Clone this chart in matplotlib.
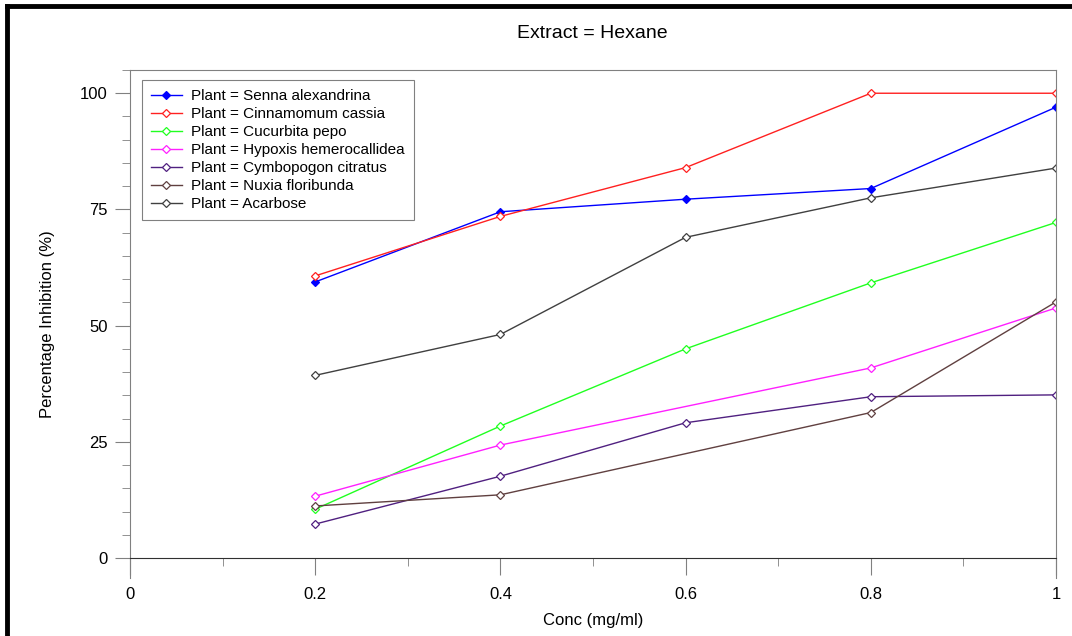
import matplotlib.pyplot as plt
from matplotlib.lines import Line2D
from matplotlib.ticker import MultipleLocator

plt.rcParams['font.family'] = ['Liberation Sans', 'DejaVu Sans']

# concentrations (mg/ml)
conc = [0.2, 0.4, 0.6, 0.8, 1.0]
conc_gap = [0.2, 0.4, 0.8, 1.0]  # series with no 0.6 reading

senna = [59.4, 74.5, 77.2, 79.5, 97.0]
cinnamomum = [60.7, 73.5, 84.0, 100.0, 100.0]
cucurbita = [10.5, 28.4, 45.0, 59.2, 72.2]
hypoxis = [13.3, 24.3, 40.9, 53.8]
cymbopogon = [7.3, 17.6, 29.1, 34.7, 35.1]
nuxia = [11.2, 13.6, 31.3, 55.1]
acarbose = [39.3, 48.1, 69.0, 77.5, 83.9]

series = [
    ('Plant = Senna alexandrina', conc, senna, '#0000ff', True),
    ('Plant = Cinnamomum cassia', conc, cinnamomum, '#ff2020', False),
    ('Plant = Cucurbita pepo', conc, cucurbita, '#20ff20', False),
    ('Plant = Hypoxis hemerocallidea', conc_gap, hypoxis, '#ff20ff', False),
    ('Plant = Cymbopogon citratus', conc, cymbopogon, '#502080', False),
    ('Plant = Nuxia floribunda', conc_gap, nuxia, '#604040', False),
    ('Plant = Acarbose', conc, acarbose, '#404040', False),
]

fig = plt.figure(figsize=(10.72, 6.36), dpi=100)
ax = fig.add_axes([130 / 1072, 1 - 578 / 636, 926 / 1072, 508 / 636])

for name, xs, ys, col, filled in series:
    ax.plot(xs, ys, color=col, lw=1.0, marker='D', markersize=3.6,
            markerfacecolor=col if filled else 'white', markeredgecolor=col,
            markeredgewidth=0.9, label=name)

ax.set_xlim(0, 1)
ax.set_ylim(-4.3, 105)
ax.spines['bottom'].set_position(('data', 0))
for s in ['left', 'right', 'top']:
    ax.spines[s].set_color('#808080')
ax.spines['bottom'].set_color('#303030')

ax.xaxis.set_minor_locator(MultipleLocator(0.1))
ax.yaxis.set_minor_locator(MultipleLocator(5))
ax.set_xticks([0, 0.2, 0.4, 0.6, 0.8, 1.0])
ax.set_xticklabels(['0', '0.2', '0.4', '0.6', '0.8', '1'])
ax.set_yticks([0, 25, 50, 75, 100])
ax.tick_params(which='major', direction='out', length=11, color='#808080',
               labelsize=12, pad=5)
ax.tick_params(which='minor', direction='out', length=6, color='#808080')
ax.tick_params(axis='x', which='major', length=12, pad=9)

ax.set_xlabel('Conc (mg/ml)', fontsize=12, labelpad=8)
ax.set_ylabel('Percentage Inhibition (%)', fontsize=12, labelpad=18)
fig.text(592 / 1072, 1 - 33 / 636, 'Extract = Hexane', ha='center', va='center', fontsize=14)

leg = ax.legend(loc='upper left', bbox_to_anchor=(12 / 926, 1 - 10 / 508),
                borderaxespad=0, fontsize=11, handlelength=2.0, labelspacing=0.26,
                fancybox=False, framealpha=1, edgecolor='#808080',
                borderpad=0.6, handletextpad=0.6)
leg.get_frame().set_linewidth(0.8)

# thick black frame of the original figure
fig.add_artist(Line2D([7 / 1072, 1], [1 - 6 / 636, 1 - 6 / 636], color='black', lw=3.5))
fig.add_artist(Line2D([7 / 1072, 7 / 1072], [0, 1 - 6 / 636], color='black', lw=3.5))

fig.savefig('out.png', dpi=100)
